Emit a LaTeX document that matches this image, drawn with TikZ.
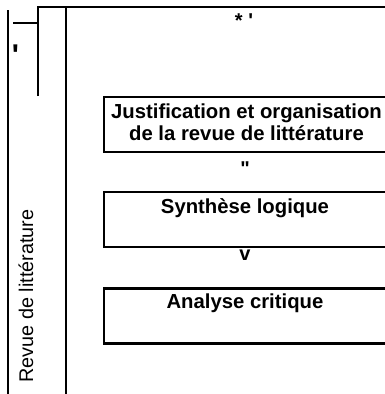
\documentclass[tikz,border=0pt]{standalone}
\usepackage{fontspec}
\setmainfont{Liberation Sans}
\begin{document}
\begin{tikzpicture}[x=1pt,y=-1pt,
  frame/.style={line width=2.2pt},
  stage/.style={draw,line width=2.2pt,minimum width=285pt,minimum height=55pt,inner sep=0pt},
  caption/.style={font=\fontsize{20.3}{22}\selectfont\bfseries,inner sep=0pt,anchor=base,align=center},
  glyph/.style={font=\fontsize{20}{20}\selectfont\bfseries,inner sep=0pt,anchor=base},
  side/.style={font=\fontsize{19.8}{20}\selectfont,inner sep=0pt,rotate=90}]
\useasboundingbox (0,0) rectangle (384,394);
% outer frame lines
\draw[frame] (8,10) -- (8,400);
\draw[frame] (13,23) -- (38,23);
\draw[frame] (38,96) -- (38,7) -- (400,7);
\draw[frame] (66,7) -- (66,400);
% small marks
\node[glyph] (m0) at (244,27.5) {* \textquotesingle};
\node[glyph,font=\fontsize{30}{30}\selectfont\bfseries] (m1) at (15.5,65) {\textquotesingle};
% stage boxes
\node[stage] (b1) at (246.5,124.5) {};
\node[stage] (b2) at (246.5,219.5) {};
\node[stage] (b3) at (246.5,316) {};
% the base anchor of a two-line caption sits on its last line
\node[caption] (t1) at (246.5,140) {Justification et organisation\\de la revue de littérature};
\node[caption] (t2) at (245,213) {Synthèse logique};
\node[caption] (t3) at (245,308.5) {Analyse critique};
\node[glyph] (q1) at (245,175) {\textquotedbl};
\node[glyph] (q2) at (245,260) {v};
% side label
\node[side] (s) at (26,296) {Revue de littérature};
\end{tikzpicture}
\end{document}
